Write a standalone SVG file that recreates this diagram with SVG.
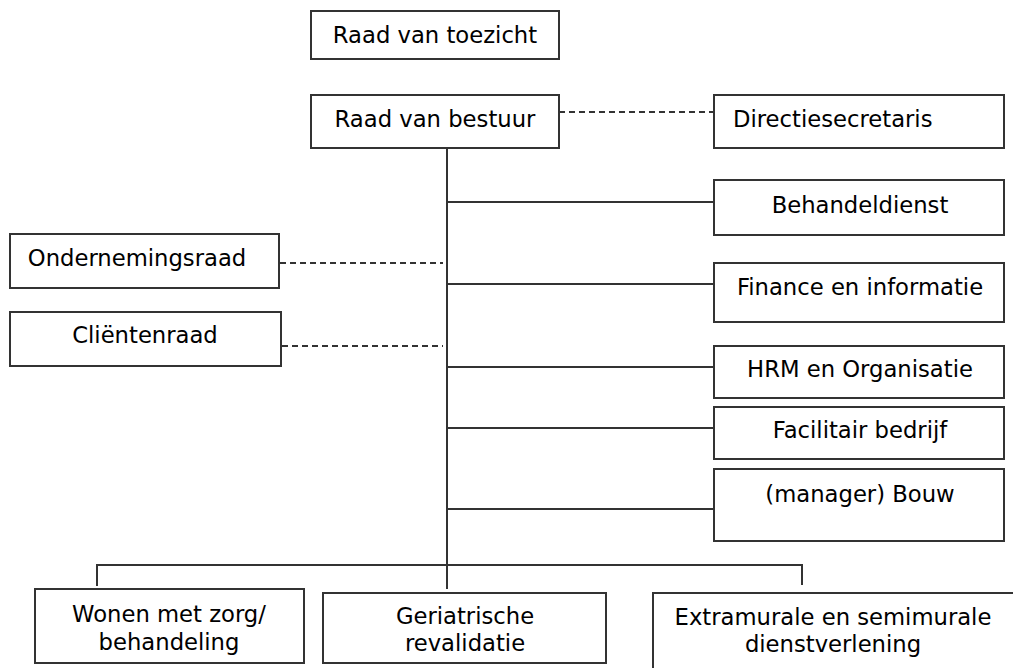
<svg xmlns="http://www.w3.org/2000/svg" width="1013" height="668" viewBox="0 0 1013 668">
<style>
rect{fill:#fff;stroke:#333;stroke-width:2}
text{font-family:"DejaVu Sans",Verdana,sans-serif;font-size:22.7px;fill:#000}
.c{text-anchor:middle}
.ln{stroke:#333;stroke-width:2;fill:none}
.d{stroke:#333;stroke-width:1.8;fill:none;stroke-dasharray:6 4}
</style>
<rect width="1013" height="668" style="fill:#fff;stroke:none"/>
<g id="connectors">
<path class="ln" d="M447 148V557M447 202H714M447 284H714M447 367H714M447 428H714M447 509H714"/>
<path class="ln" d="M97 586V565H802V585M447 557V589"/>
<path class="d" d="M559 112H714M280 263H443M282 346H443"/>
</g>
<g id="toezicht"><rect x="311" y="11" width="248" height="48"/><text class="c" x="435" y="43">Raad van toezicht</text></g>
<g id="bestuur"><rect x="311" y="95" width="248" height="53"/><text class="c" x="435" y="127">Raad van bestuur</text></g>
<g id="directiesecretaris"><rect x="714" y="95" width="290" height="53"/><text x="733" y="127">Directiesecretaris</text></g>
<g id="behandeldienst"><rect x="714" y="180" width="290" height="55"/><text class="c" x="860" y="213">Behandeldienst</text></g>
<g id="ondernemingsraad"><rect x="10" y="234" width="269" height="54"/><text class="c" x="137" y="266">Ondernemingsraad</text></g>
<g id="clientenraad"><rect x="10" y="312" width="271" height="54"/><text class="c" x="145" y="343">Cliëntenraad</text></g>
<g id="finance"><rect x="714" y="263" width="290" height="59"/><text class="c" x="860" y="295">Finance en informatie</text></g>
<g id="hrm"><rect x="714" y="346" width="290" height="52"/><text class="c" x="860" y="377">HRM en Organisatie</text></g>
<g id="facilitair"><rect x="714" y="407" width="290" height="52"/><text class="c" x="860" y="438">Facilitair bedrijf</text></g>
<g id="bouw"><rect x="714" y="469" width="290" height="72"/><text class="c" x="860" y="502">(manager) Bouw</text></g>
<g id="wonen"><rect x="35" y="589" width="269" height="74"/><text class="c" x="169" y="622">Wonen met zorg/</text><text class="c" x="169" y="650">behandeling</text></g>
<g id="geriatrische"><rect x="323" y="593" width="283" height="70"/><text class="c" x="465" y="624">Geriatrische</text><text class="c" x="465" y="651">revalidatie</text></g>
<g id="extramurale"><rect x="653" y="593" width="362" height="80"/><text class="c" x="833" y="625">Extramurale en semimurale</text><text class="c" x="833" y="652">dienstverlening</text></g>
</svg>
